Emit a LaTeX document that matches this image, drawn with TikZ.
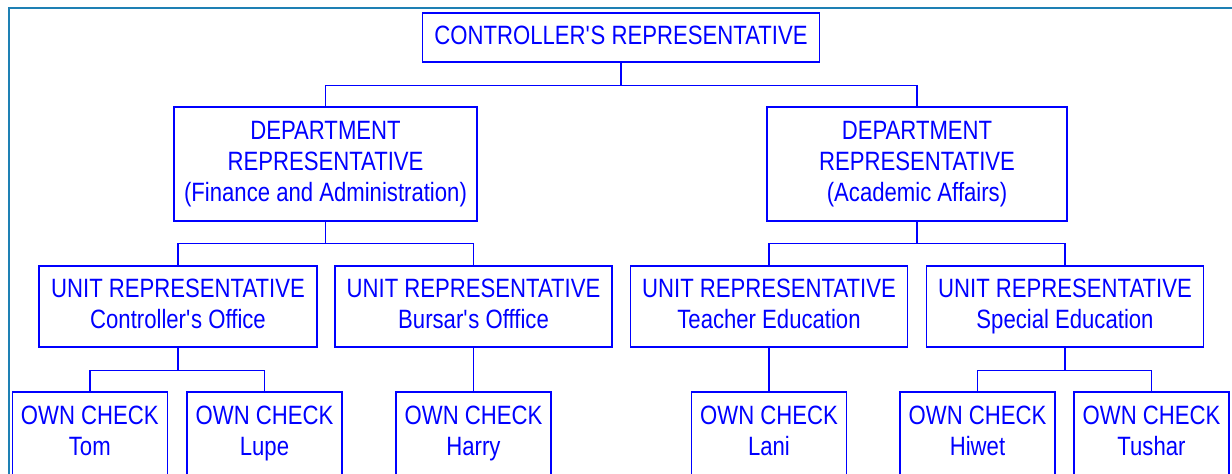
\documentclass[tikz,border=0pt]{standalone}
\usepackage{fontspec}
\setmainfont[FakeStretch=0.835]{Liberation Sans}
\definecolor{framecol}{RGB}{30,128,180}
\newcommand{\repstrut}{\rule[-6pt]{0pt}{27pt}}
\tikzset{
  rep/.style={draw=blue, text=blue, line width=1.5pt, rectangle, inner sep=0pt, align=center,
    font=\fontsize{26.5}{31}\selectfont, execute at begin node=\repstrut, execute at end node=\repstrut},
  link/.style={draw=blue, line width=1.4pt}
}
\begin{document}
\begin{tikzpicture}[x=1pt, y=-1pt]
  \useasboundingbox (0,0) rectangle (1232,474);
  \clip (0,0) rectangle (1232,474);
  %%% Cornice
  \draw[framecol, line width=2pt] (8.5,490) -- (8.5,7.5) -- (1250,7.5);
  %%% Vertice
  \node[rep, minimum width=397, minimum height=49] (ctrl) at (621,37.3) {CONTROLLER\textquotesingle S REPRESENTATIVE};
  %%% Dipartimenti
  \node[rep, minimum width=303, minimum height=114] (deptFin) at (325.5,164) {DEPARTMENT\\REPRESENTATIVE\\(Finance and Administration)};
  \node[rep, minimum width=300, minimum height=114] (deptAcad) at (917,164) {DEPARTMENT\\REPRESENTATIVE\\(Academic Affairs)};
  %%% Unita
  \node[rep, minimum width=278, minimum height=81] (unitCtrl) at (178,306.3) {UNIT REPRESENTATIVE\\Controller\textquotesingle s Office};
  \node[rep, minimum width=277, minimum height=81] (unitBursar) at (473.5,306.3) {UNIT REPRESENTATIVE\\Bursar\textquotesingle s Offfice};
  \node[rep, minimum width=277, minimum height=81] (unitTeach) at (769,306.3) {UNIT REPRESENTATIVE\\Teacher Education};
  \node[rep, minimum width=277, minimum height=81] (unitSpec) at (1065,306.3) {UNIT REPRESENTATIVE\\Special Education};
  %%% Conti propri
  \node[rep, minimum width=155, minimum height=84] (chkTom) at (89.8,434) {OWN CHECK\\Tom};
  \node[rep, minimum width=155, minimum height=84] (chkLupe) at (264.5,434) {OWN CHECK\\Lupe};
  \node[rep, minimum width=155, minimum height=84] (chkHarry) at (473.5,434) {OWN CHECK\\Harry};
  \node[rep, minimum width=155, minimum height=84] (chkLani) at (769,434) {OWN CHECK\\Lani};
  \node[rep, minimum width=155, minimum height=84] (chkHiwet) at (977.5,434) {OWN CHECK\\Hiwet};
  \node[rep, minimum width=155, minimum height=84] (chkTushar) at (1151.5,434) {OWN CHECK\\Tushar};
  %%% Collegamenti
  \draw[link] (ctrl.south) -- ++(0,23) -| (deptFin.north);
  \draw[link] (ctrl.south) -- ++(0,23) -| (deptAcad.north);
  \draw[link] (deptFin.south) -- ++(0,22) -| (unitCtrl.north);
  \draw[link] (deptFin.south) -- ++(0,22) -| (unitBursar.north);
  \draw[link] (deptAcad.south) -- ++(0,22) -| (unitTeach.north);
  \draw[link] (deptAcad.south) -- ++(0,22) -| (unitSpec.north);
  \draw[link] (unitCtrl.south) -- ++(0,23) -| (chkTom.north);
  \draw[link] (unitCtrl.south) -- ++(0,23) -| (chkLupe.north);
  \draw[link] (unitBursar.south) -- (chkHarry.north);
  \draw[link] (unitTeach.south) -- (chkLani.north);
  \draw[link] (unitSpec.south) -- ++(0,23) -| (chkHiwet.north);
  \draw[link] (unitSpec.south) -- ++(0,23) -| (chkTushar.north);
\end{tikzpicture}
\end{document}
